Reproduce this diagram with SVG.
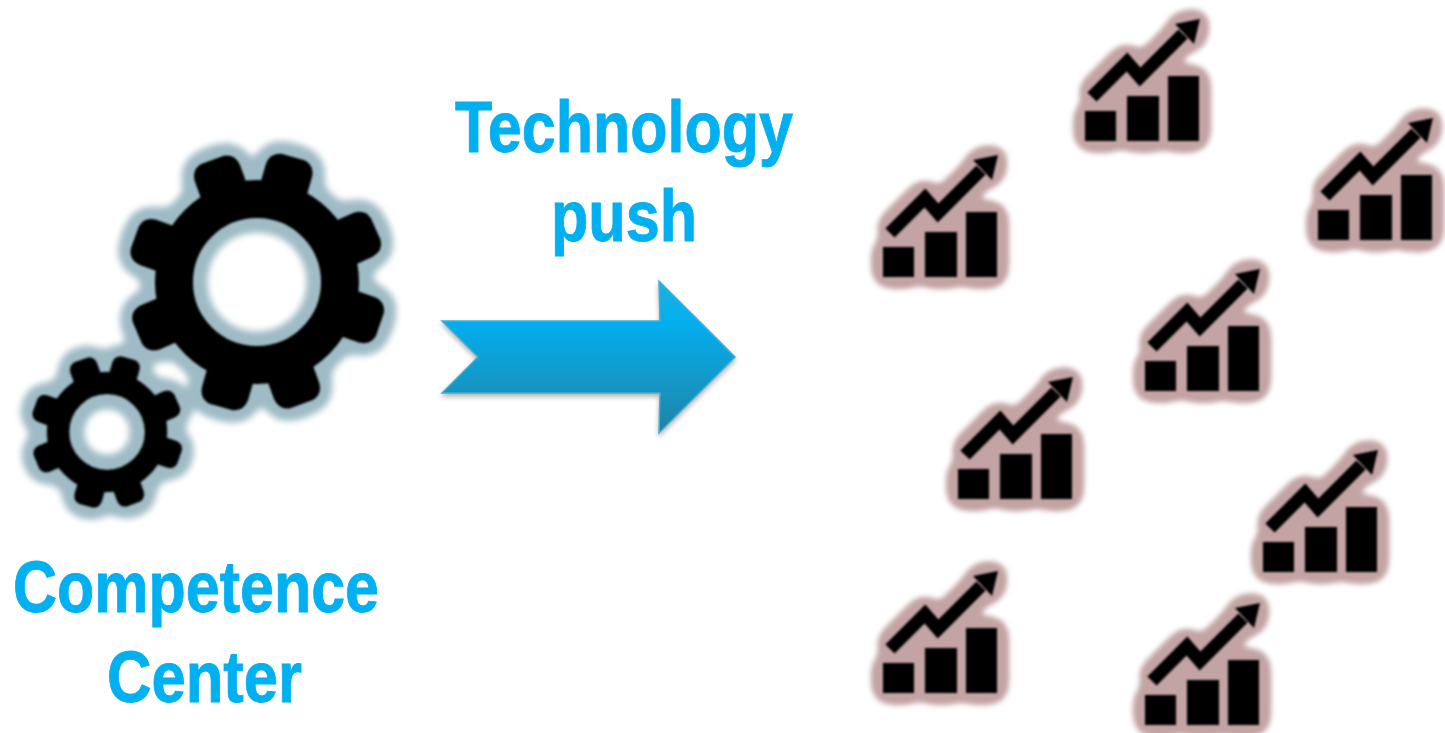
<svg xmlns="http://www.w3.org/2000/svg" width="1445" height="733" viewBox="0 0 1445 733">
<style>
.lbl{font-family:"Liberation Sans",Arial,sans-serif;font-weight:700;font-size:73px;fill:#00b0f0;stroke:#00b0f0;stroke-width:0.9px}
</style>
<defs>
<filter id="glowGear" x="-20%" y="-20%" width="140%" height="140%" color-interpolation-filters="sRGB">
<feGaussianBlur in="SourceAlpha" stdDeviation="9"/>
<feComponentTransfer result="d"><feFuncA type="linear" slope="30" intercept="-1.05"/></feComponentTransfer>
<feGaussianBlur in="d" stdDeviation="3.2" result="b"/>
<feFlood flood-color="#9fbbc5"/><feComposite in2="b" operator="in" result="g"/>
<feGaussianBlur in="SourceGraphic" stdDeviation="0.9" result="s"/>
<feMerge><feMergeNode in="g"/><feMergeNode in="s"/></feMerge>
</filter>
<filter id="glowChart" x="-30%" y="-30%" width="160%" height="160%" color-interpolation-filters="sRGB">
<feGaussianBlur in="SourceAlpha" stdDeviation="8"/>
<feComponentTransfer result="d"><feFuncA type="linear" slope="30" intercept="-1.05"/></feComponentTransfer>
<feGaussianBlur in="d" stdDeviation="2.6" result="b"/>
<feFlood flood-color="#c3a3a3"/><feComposite in2="b" operator="in" result="g"/>
<feGaussianBlur in="SourceGraphic" stdDeviation="0.8" result="s"/>
<feMerge><feMergeNode in="g"/><feMergeNode in="s"/></feMerge>
</filter>
<filter id="arrowShadow" x="-5%" y="-10%" width="110%" height="125%" color-interpolation-filters="sRGB">
<feDropShadow dx="0" dy="3" stdDeviation="2.5" flood-color="#000" flood-opacity="0.3"/>
</filter>
<linearGradient id="arrowFill" x1="0" y1="0" x2="0" y2="1">
<stop offset="0" stop-color="#1fb0e0"/><stop offset="0.27" stop-color="#03aeee"/><stop offset="0.75" stop-color="#1793bf"/><stop offset="1" stop-color="#1f82a3"/>
</linearGradient>
<path id="tooth" d="M-24 -96 L-24 -116 Q-23 -128 -12 -130 L12 -130 Q23 -128 24 -116 L24 -96 Z" fill="#000"/>
<g id="gear">
<circle r="83" fill="none" stroke="#000" stroke-width="38"/>
<use href="#tooth" transform="rotate(-20)"/>
<use href="#tooth" transform="rotate(16)"/>
<use href="#tooth" transform="rotate(66)"/>
<use href="#tooth" transform="rotate(109)"/>
<use href="#tooth" transform="rotate(160)"/>
<use href="#tooth" transform="rotate(196)"/>
<use href="#tooth" transform="rotate(247)"/>
<use href="#tooth" transform="rotate(290)"/>
</g>
<g id="chart" filter="url(#glowChart)">
<rect x="0" y="-30" width="31" height="30"/>
<rect x="42" y="-45" width="32" height="45"/>
<rect x="83" y="-65" width="31" height="65"/>
<polyline points="7,-44 42,-79 55,-64 98,-107" fill="none" stroke="#000" stroke-width="13" stroke-miterlimit="8"/>
<polygon points="115,-122 90,-117 109,-97"/>
</g>
</defs>
<g id="gears" filter="url(#glowGear)">
<g id="gear-large"><use href="#gear" transform="translate(257,282)"/></g>
<g id="gear-small"><use href="#gear" transform="translate(107,432) scale(0.59)"/></g>
</g>
<g id="label-competence">
<text class="lbl" x="13" y="612" textLength="366" lengthAdjust="spacingAndGlyphs">Competence</text>
<text class="lbl" x="107" y="702" textLength="195" lengthAdjust="spacingAndGlyphs">Center</text>
</g>
<g id="label-technology">
<text class="lbl" x="455" y="152" textLength="338" lengthAdjust="spacingAndGlyphs">Technology</text>
<text class="lbl" x="551" y="241" textLength="146" lengthAdjust="spacingAndGlyphs">push</text>
</g>
<g id="connectors">
<polygon points="442,321 660,321 659,281 735,357 659,433 660,393 442,393 478,357" fill="url(#arrowFill)" stroke="#3fb1d6" stroke-width="1.5" filter="url(#arrowShadow)"/>
</g>
<g id="chart-1"><use href="#chart" x="883" y="277"/></g>
<g id="chart-2"><use href="#chart" x="1085" y="141"/></g>
<g id="chart-3"><use href="#chart" x="1318" y="240"/></g>
<g id="chart-4"><use href="#chart" x="1145" y="391"/></g>
<g id="chart-5"><use href="#chart" x="958" y="499"/></g>
<g id="chart-6"><use href="#chart" x="1263" y="572"/></g>
<g id="chart-7"><use href="#chart" x="883" y="693"/></g>
<g id="chart-8"><use href="#chart" x="1145" y="725"/></g>
</svg>
